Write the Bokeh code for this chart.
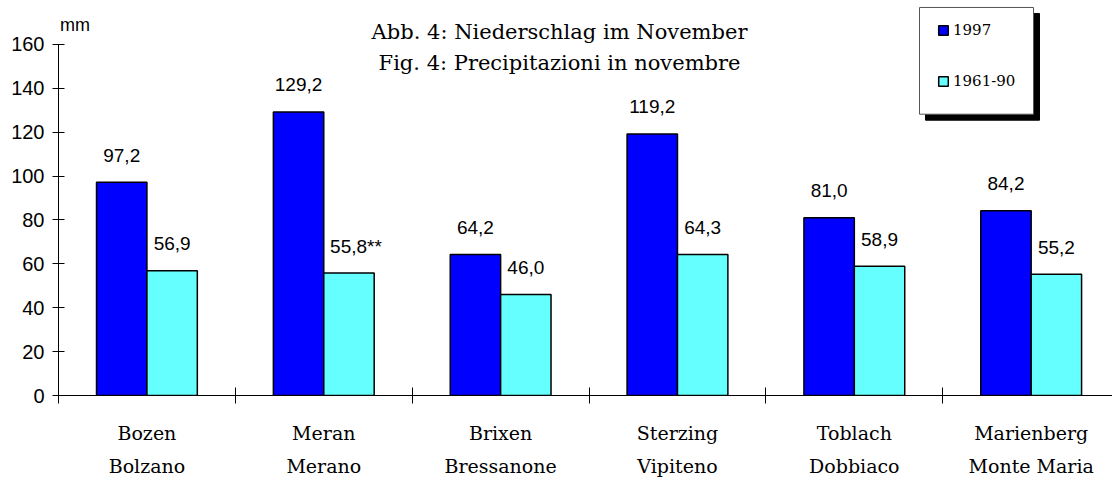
from bokeh.plotting import figure
from bokeh.models import Range1d, FixedTicker, LinearAxis, Label, Legend, LegendItem, ColumnDataSource
from bokeh.embed import file_html
from bokeh.resources import INLINE
from bokeh.core.properties import value

# ---- data ----
stations_de = ["Bozen", "Meran", "Brixen", "Sterzing", "Toblach", "Marienberg"]
stations_it = ["Bolzano", "Merano", "Bressanone", "Vipiteno", "Dobbiaco", "Monte Maria"]
nov_1997 = [97.2, 129.2, 64.2, 119.2, 81.0, 84.2]
nov_1961_90 = [56.9, 55.8, 46.0, 64.3, 58.9, 55.2]
labels_1997 = ["97,2", "129,2", "64,2", "119,2", "81,0", "84,2"]
labels_1961_90 = ["56,9", "55,8**", "46,0", "64,3", "58,9", "55,2"]
label_shift_1961_90 = [0, 7, 0, 0, 0, 0]
y_ticks = [0, 20, 40, 60, 80, 100, 120, 140, 160]
series_names = ["1997", "1961-90"]

SANS = "Liberation Sans"
SERIF = "DejaVu Serif"
BLUE = "#0000FF"
CYAN = "#66FFFF"

n = len(stations_de)
bar_w = 0.285
centers = [i + 0.5 for i in range(n)]
bounds = list(range(n + 1))

src_a = ColumnDataSource(dict(x=[c - bar_w / 2 for c in centers], top=nov_1997, lab=labels_1997))
src_b = ColumnDataSource(dict(x=[c + bar_w / 2 for c in centers], top=nov_1961_90,
                              lab=labels_1961_90, dx=label_shift_1961_90))

PX_X = 176.85   # pixels per group
PX_Y = 2.2      # pixels per mm
BORDER_L = 58

p = figure(width=1112, height=479, output_backend="svg", toolbar_location=None,
           x_range=Range1d(0, (1112 - BORDER_L) / PX_X), y_range=Range1d(0, 180),
           min_border_left=BORDER_L, min_border_right=0, min_border_top=0, min_border_bottom=83,
           x_axis_type=None, y_axis_type=None)
p.outline_line_color = None
p.border_fill_color = None
p.xgrid.visible = False
p.ygrid.visible = False

r1 = p.vbar(x="x", top="top", width=bar_w, source=src_a, fill_color=BLUE,
            line_color="black", line_width=1.5)
r2 = p.vbar(x="x", top="top", width=bar_w, source=src_b, fill_color=CYAN,
            line_color="black", line_width=1.5)

p.text(x="x", y="top", text="lab", source=src_a, text_align="center", text_baseline="middle",
       y_offset=-27, text_font=value(SANS), text_font_size="19px", text_color="black")
p.text(x="x", y="top", text="lab", source=src_b, text_align="center", text_baseline="middle",
       x_offset="dx", y_offset=-27, text_font=value(SANS), text_font_size="19px", text_color="black")

# y axis
yax = LinearAxis(ticker=FixedTicker(ticks=y_ticks), bounds=(0, 160))
yax.major_label_text_font = SANS
yax.major_label_text_font_size = "20px"
yax.major_label_text_color = "black"
yax.major_tick_in = 6
yax.major_tick_out = 6
yax.minor_tick_line_color = None
yax.major_label_standoff = 8
yax.axis_line_color = "black"
p.add_layout(yax, "left")

# x axis: boundary ticks as minor ticks, category labels at group centres
xax = LinearAxis(ticker=FixedTicker(ticks=centers, minor_ticks=bounds),
                 major_label_overrides={c: f"{d}\n{i}" for c, d, i in zip(centers, stations_de, stations_it)})
xax.axis_line_color = "black"
xax.major_tick_line_color = None
xax.major_tick_in = 0
xax.major_tick_out = 0
xax.minor_tick_line_color = "black"
xax.minor_tick_in = 8
xax.minor_tick_out = 8
xax.major_label_text_font = SERIF
xax.major_label_text_font_size = "19px"
xax.major_label_text_color = "black"
xax.major_label_text_line_height = 1.5
xax.major_label_standoff = 18
p.add_layout(xax, "below")

# unit label
p.add_layout(Label(x=1.5 / PX_X, y=(396 - 25) / PX_Y, text="mm", text_font=SANS, text_font_size="18px",
                   text_baseline="middle", text_align="left", text_color="black"))

# titles
p.add_layout(Label(x=2.833, y=165.5, text="Abb. 4: Niederschlag im November", text_font=SERIF,
                   text_font_size="21px", text_align="center", text_baseline="middle", text_color="black"))
p.add_layout(Label(x=2.833, y=151.4, text="Fig. 4: Precipitazioni in novembre", text_font=SERIF,
                   text_font_size="21px", text_align="center", text_baseline="middle", text_color="black"))

# legend box with shadow
bx0, bx1 = (919 - BORDER_L) / PX_X, (1033 - BORDER_L) / PX_X
by0, by1 = (396 - 114) / PX_Y, (396 - 7) / PX_Y
p.quad(left=[bx0 + 6 / PX_X], right=[bx1 + 6 / PX_X], bottom=[by0 - 6 / PX_Y], top=[by1 - 6 / PX_Y],
       fill_color="black", line_color="black")
p.quad(left=[bx0], right=[bx1], bottom=[by0], top=[by1], fill_color="white", line_color="#555555",
       line_width=1)

legend = Legend(items=[LegendItem(label=series_names[0], renderers=[r1]),
                       LegendItem(label=series_names[1], renderers=[r2])],
                location=(929 - BORDER_L, 296))
legend.background_fill_alpha = 0
legend.border_line_alpha = 0
legend.label_text_font = SERIF
legend.label_text_font_size = "15px"
legend.label_text_color = "black"
legend.glyph_width = 12
legend.glyph_height = 12
legend.label_height = 20
legend.label_standoff = 4
legend.spacing = 31
legend.padding = 8
legend.margin = 0
p.add_layout(legend, "center")

open("out.html", "w").write(file_html(p, INLINE))
